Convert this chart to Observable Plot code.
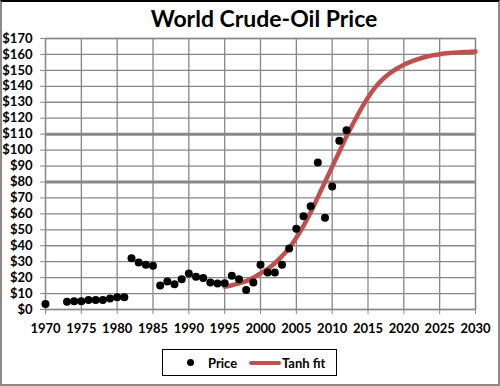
<!DOCTYPE html>
<html><head><meta charset="utf-8">
<script src="https://cdn.jsdelivr.net/npm/d3@7"></script>
<script src="https://cdn.jsdelivr.net/npm/@observablehq/plot@0.6"></script>
<style>
body{margin:0;background:#fff;}
#wrap{position:relative;width:500px;height:386px;overflow:hidden;font-family:Lato,"Open Sans",sans-serif;background:#fff;}
#frame{position:absolute;left:0;top:0;width:500px;height:386px;box-sizing:border-box;border:2px solid #8a8a8a;border-top:2px solid #000;pointer-events:none;}
#title{position:absolute;left:14px;top:4px;width:500px;text-align:center;font-size:23px;font-weight:bold;color:#000;line-height:28px;}
#chart{position:absolute;left:0;top:0;}
#legend{position:absolute;left:162px;top:349px;width:175px;height:27px;box-sizing:border-box;border:1.5px solid #000;font-size:13px;font-weight:bold;}
.lg{position:absolute;top:5px;line-height:16px;}
</style>
</head><body>
<div id="wrap">
<div id="chart"></div>
<div id="title">World Crude-Oil Price</div>
<div id="legend">
  <span style="position:absolute;left:24px;top:9px;width:7px;height:7px;border-radius:50%;background:#000;"></span>
  <span class="lg" style="left:45px;">Price</span>
  <span style="position:absolute;left:86px;top:11px;width:32px;height:4px;border-radius:2px;background:#C0504D;"></span>
  <span class="lg" style="left:119px;">Tanh fit</span>
</div>
<div id="frame"></div>
</div>
<script>
const years = [1970,1973,1974,1975,1976,1977,1978,1979,1980,1981,1982,1983,1984,1985,1986,1987,1988,1989,1990,1991,1992,1993,1994,1995,1996,1997,1998,1999,2000,2001,2002,2003,2004,2005,2006,2007,2008,2009,2010,2011,2012];
const prices = [3.5,4.8,5.2,5.2,6.0,6.0,6.0,6.9,7.7,7.7,32.2,29.5,28.0,27.4,15.0,17.6,15.9,19.0,22.6,20.5,19.8,16.9,16.3,16.5,21.2,19.0,12.2,16.9,28.0,23.2,23.2,28.0,38.3,50.6,58.5,64.8,92.2,57.5,77.2,105.8,112.5];
const fitYears = [1995,1996,1997,1998,1999,2000,2001,2002,2003,2004,2005,2006,2007,2008,2009,2010,2011,2012,2013,2014,2015,2016,2017,2018,2019,2020,2021,2022,2023,2024,2025,2026,2027,2028,2029,2030];
const fitValues = [14.2,15.2,16.4,17.8,20.0,22.6,25.5,29.0,33.5,38.5,45.0,52.5,61.0,70.5,80.0,89.5,99.0,108.5,117.3,125.6,133.0,139.3,144.2,148.0,151.0,153.5,155.5,157.1,158.4,159.4,160.1,160.7,161.1,161.4,161.6,161.8];
const xTicks = [1970,1975,1980,1985,1990,1995,2000,2005,2010,2015,2020,2025,2030];
const yTicks = [0,10,20,30,40,50,60,70,80,90,100,110,120,130,140,150,160,170];
const thickY = [80,110];

const priceData = years.map((y,i)=>({year:y, price:prices[i]}));
const fitData = fitYears.map((y,i)=>({year:y, value:fitValues[i]}));

const plot = Plot.plot({
  width:500, height:340,
  marginTop:38, marginBottom:31, marginLeft:45, marginRight:25,
  style:{fontFamily:"Lato, 'Open Sans', sans-serif", fontSize:"13px", fontWeight:"bold", color:"#000", background:"transparent"},
  x:{domain:[1970,2030], label:null},
  y:{domain:[0,170], label:null},
  marks:[
    Plot.gridX(xTicks,{stroke:"#888", strokeOpacity:1, strokeWidth:1.3}),
    Plot.gridY(yTicks.filter(v=>!thickY.includes(v)),{stroke:"#888", strokeOpacity:1, strokeWidth:1.3}),
    Plot.gridY(thickY,{stroke:"#888", strokeOpacity:1, strokeWidth:3}),
    Plot.frame({stroke:"#888", strokeWidth:1.3}),
    Plot.axisX(xTicks,{tickSize:5, tickPadding:9, stroke:"#888", fill:"#000", tickFormat:d=>String(d), label:null}),
    Plot.axisY(yTicks,{tickSize:5, tickPadding:8, stroke:"#888", fill:"#000", tickFormat:d=>"$"+d, label:null}),
    Plot.line(fitData,{x:"year", y:"value", stroke:"#C0504D", strokeWidth:4.5, curve:"catmull-rom"}),
    Plot.dot(priceData,{x:"year", y:"price", r:4, fill:"#000", stroke:"none"})
  ]
});
document.getElementById("chart").appendChild(plot);
</script>
</body></html>
